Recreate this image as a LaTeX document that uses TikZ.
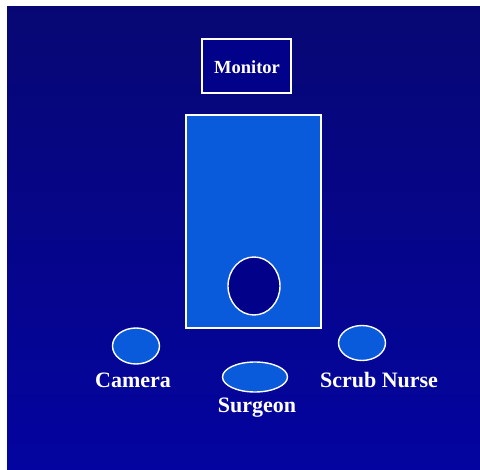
\documentclass[tikz,border=0pt]{standalone}
\usepackage{fontspec}
\setmainfont{Liberation Serif}
\usepackage{xcolor}
\usepackage{tikz}
\definecolor{RoomNavyTop}{HTML}{070774}
\definecolor{RoomNavyBottom}{HTML}{0404A0}
\definecolor{RoomBlue}{HTML}{0A5ADC}
\definecolor{RoomDark}{HTML}{01018A}

\begin{document}
\begin{tikzpicture}[x=1pt, y=-1pt, font=\bfseries,
  outline/.style={draw=white, line width=1.4pt},
  stafflabel/.style={text=white, font=\bfseries\fontsize{22}{25}\selectfont, inner sep=0pt}]
  \useasboundingbox (0,0) rectangle (480,470);
  \fill[white] (0,0) rectangle (480,470);
  \shade[top color=RoomNavyTop, bottom color=RoomNavyBottom] (7,7) rectangle (480,470);
  % monitor
  \draw[outline, fill=RoomDark] (202,39) rectangle (291,93);
  \node[text=white, font=\bfseries\fontsize{18.5}{21}\selectfont, inner sep=0pt] (monitor) at (247,67) {Monitor};
  % table and patient head
  \draw[outline, fill=RoomBlue] (186,115) rectangle (321,328);
  \draw[outline, fill=RoomDark] (254,286) ellipse (26 and 29);
  % staff
  \draw[outline, fill=RoomBlue] (136,346) ellipse (23.5 and 18);
  \draw[outline, fill=RoomBlue] (362,343) ellipse (23.5 and 17.5);
  \draw[outline, fill=RoomBlue] (255,377) ellipse (32.5 and 15);
  \node[stafflabel] (camera) at (133,380) {Camera};
  \node[stafflabel] (nurse) at (379,380) {Scrub Nurse};
  \node[stafflabel] (surgeon) at (257,408) {Surgeon};
\end{tikzpicture}
\end{document}
